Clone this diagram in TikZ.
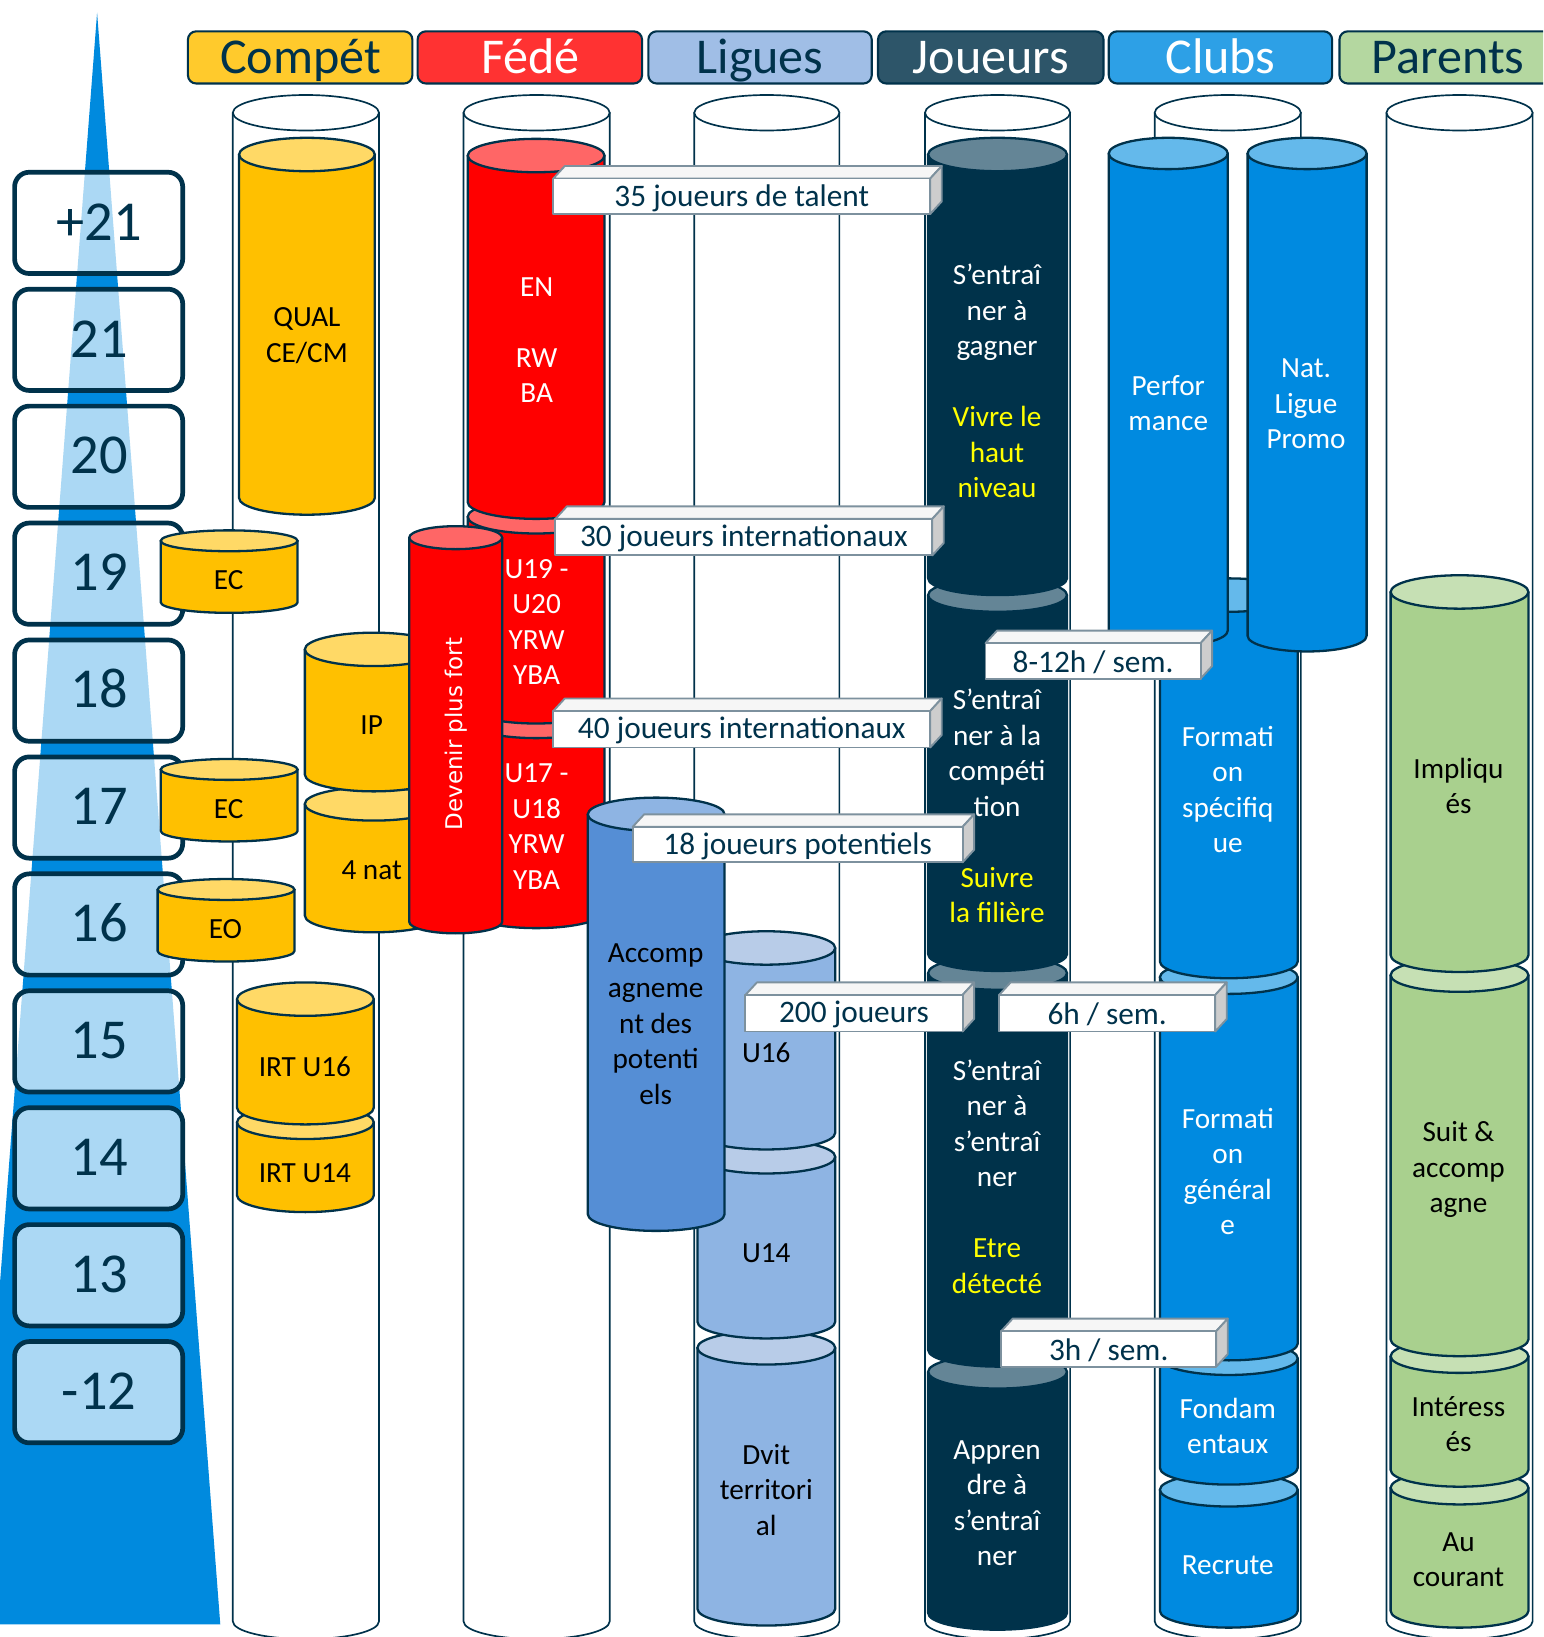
\documentclass[tikz,border=0pt]{standalone}
\usepackage{fontspec}
\setmainfont{Carlito}
\newfontfamily\djv{DejaVu Sans}
\definecolor{navy}{RGB}{0,50,75}
\definecolor{tri}{RGB}{0,138,222}
\definecolor{hCompet}{RGB}{255,202,44}
\definecolor{hFede}{RGB}{255,50,50}
\definecolor{hLigues}{RGB}{160,190,230}
\definecolor{hJoueurs}{RGB}{45,85,105}
\definecolor{hClubs}{RGB}{45,160,230}
\definecolor{hParents}{RGB}{180,215,160}
\definecolor{yelB}{RGB}{255,192,0}
\definecolor{yelT}{RGB}{255,217,102}
\definecolor{redB}{RGB}{255,0,0}
\definecolor{redT}{RGB}{255,102,102}
\definecolor{accB}{RGB}{85,142,213}
\definecolor{accT}{RGB}{142,180,227}
\definecolor{ligB}{RGB}{142,180,227}
\definecolor{ligT}{RGB}{184,204,232}
\definecolor{jouB}{RGB}{0,50,74}
\definecolor{jouT}{RGB}{100,133,150}
\definecolor{cluB}{RGB}{0,138,224}
\definecolor{cluT}{RGB}{100,185,235}
\definecolor{parB}{RGB}{169,208,142}
\definecolor{parT}{RGB}{198,224,180}
\definecolor{jyel}{RGB}{255,255,0}
\definecolor{lblline}{RGB}{125,145,158}
\definecolor{lblside}{RGB}{205,205,205}
\definecolor{lbltop}{RGB}{246,246,246}

% x1 x2 ytop ybot ry body top linewidth
\newcommand\mycyl[8]{%
 \pgfmathsetmacro\cyx{(#1+#2)/2}%
 \pgfmathsetmacro\cyr{(#2-#1)/2}%
 \pgfmathsetmacro\cykx{0.5523*\cyr}%
 \pgfmathsetmacro\cyky{0.5523*#5}%
 \filldraw[line width=#8, draw=navy, fill=#6, line join=round] (#1,#3) -- (#1,#4) .. controls (#1,#4+\cyky) and (\cyx-\cykx,#4+#5) .. (\cyx,#4+#5) .. controls (\cyx+\cykx,#4+#5) and (#2,#4+\cyky) .. (#2,#4) -- (#2,#3) -- cycle;
 \filldraw[line width=#8, draw=navy, fill=#7] (\cyx,#3) ellipse [x radius=\cyr, y radius=#5];
}
\newcommand\incyl[7]{\mycyl{#1}{#2}{#3}{#4}{#5}{#6}{#7}{2.2pt}}

% x1 y1 x2 y2 name text
\newcommand\lbl[6]{%
 \filldraw[lblbox, fill=lbltop] (#1,#2) -- (#1+11,#2-12) -- (#3+11,#2-12) -- (#3,#2) -- cycle;
 \filldraw[lblbox, fill=lblside] (#3,#2) -- (#3+11,#2-12) -- (#3+11,#4-12) -- (#3,#4) -- cycle;
 \filldraw[lblbox, fill=white] (#1,#2) rectangle (#3,#4);
 \node[lbltext] (#5) at ({(#1+#3)/2},{(#2+#4)/2+1.5}) {#6};
}

\tikzset{
 lblbox/.style={draw=lblline, line width=1.8pt, line join=round},
 lbltext/.style={inner sep=0, text=navy, font=\fontsize{30}{36}\selectfont},
 agebox/.style={draw=navy, line width=4.5pt, rounded corners=14pt, fill=white, fill opacity=0.67},
 agetext/.style={anchor=base, inner sep=0, text=navy, font=\fontsize{54}{60}\selectfont},
 hdrbox/.style={draw=navy, line width=2pt, rounded corners=8pt},
 hdrtext/.style={anchor=base, inner sep=0, font=\fontsize{48}{56}\selectfont},
 ct/.style={inner sep=0, yshift=-3pt, align=center, font=\fontsize{28}{34}\selectfont, execute at begin node=\strut, execute at end node=\strut},
 ctk/.style={ct, text=black},
 ctw/.style={ct, text=white},
}

\begin{document}
\begin{tikzpicture}[x=1pt,y=-1pt]
\useasboundingbox (0,0) rectangle (1478,1568);
\clip (0,0) rectangle (1478,1568);
\fill[white] (0,0) rectangle (1478,1568);

% pyramid
\fill[tri] (93,12) -- (211,1556) -- (-25,1556) -- cycle;

% age boxes
\foreach \lab [count=\i from 0] in {+21,21,20,19,18,17,16,15,14,13,-12}{
  \pgfmathsetmacro\yt{165+112*\i}
  \draw[agebox] (14,\yt) rectangle (175,\yt+97);
  \node[agetext] (age\i) at (95,\yt+65) {\lab};
}

% headers
\draw[hdrbox, fill=hCompet] (180,30) rectangle (395,80);
\node[hdrtext, text=navy] (hcompet) at (288,70) {Compét};
\draw[hdrbox, fill=hFede] (400,30) rectangle (615,80);
\node[hdrtext, text=white] (hfede) at (508,70) {Fédé};
\draw[hdrbox, fill=hLigues] (621,30) rectangle (835,80);
\node[hdrtext, text=navy] (hligues) at (728,70) {Ligues};
\draw[hdrbox, fill=hJoueurs] (841,30) rectangle (1057,80);
\node[hdrtext, text=white] (hjoueurs) at (949,70) {Joueurs};
\draw[hdrbox, fill=hClubs] (1062,30) rectangle (1276,80);
\node[hdrtext, text=white] (hclubs) at (1169,70) {Clubs};
\draw[hdrbox, fill=hParents] (1283,30) rectangle (1497,80);
\node[hdrtext, text=navy] (hparents) at (1387,70) {Parents};

% outer white cylinders
\mycyl{223}{363}{108}{1553}{17}{white}{white}{1.6pt}
\mycyl{444}{584}{108}{1553}{17}{white}{white}{1.6pt}
\mycyl{665}{804}{108}{1553}{17}{white}{white}{1.6pt}
\mycyl{886}{1025}{108}{1553}{17}{white}{white}{1.6pt}
\mycyl{1106}{1246}{108}{1553}{17}{white}{white}{1.6pt}
\mycyl{1328}{1468}{108}{1553}{17}{white}{white}{1.6pt}

% Compet column
\incyl{229}{359}{148}{477}{16}{yelB}{yelT}
\incyl{227}{358}{1075}{1145}{16}{yelB}{yelT}
\incyl{227}{358}{957}{1061}{16}{yelB}{yelT}
\incyl{292}{424}{770}{877}{16}{yelB}{yelT}
\incyl{292}{424}{622}{742}{16}{yelB}{yelT}
\incyl{154}{285}{518}{577}{10}{yelB}{yelT}
\incyl{154}{285}{737}{796}{10}{yelB}{yelT}
\incyl{151}{282}{852}{911}{10}{yelB}{yelT}

% Fede column
\incyl{448}{579}{691}{873}{16}{redB}{redT}
\incyl{448}{579}{495}{677}{16}{redB}{redT}
\incyl{448}{579}{149}{481}{16}{redB}{redT}
\incyl{392}{481}{515}{883}{11}{redB}{redT}

% Ligues column
\incyl{668}{800}{1291}{1541}{16}{ligB}{ligT}
\incyl{668}{800}{1108}{1266}{16}{ligB}{ligT}
\incyl{668}{800}{908}{1085}{16}{ligB}{ligT}
\incyl{563}{694}{780}{1163}{16}{accB}{accT}

% Joueurs column
\incyl{889}{1022}{1314}{1545}{16}{jouB}{jouT}
\incyl{889}{1022}{932}{1293}{16}{jouB}{jouT}
\incyl{889}{1022}{570}{914}{16}{jouB}{jouT}
\incyl{889}{1022}{148}{554}{16}{jouB}{jouT}

% Clubs column
\incyl{1111}{1243}{1427}{1543}{16}{cluB}{cluT}
\incyl{1111}{1243}{1301}{1406}{16}{cluB}{cluT}
\incyl{1111}{1243}{936}{1287}{16}{cluB}{cluT}
\incyl{1111}{1243}{570}{921}{16}{cluB}{cluT}
\incyl{1062}{1176}{147}{604}{15}{cluB}{cluT}
\incyl{1195}{1309}{147}{609}{15}{cluB}{cluT}

% Parents column
\incyl{1332}{1464}{1425}{1543}{16}{parB}{parT}
\incyl{1332}{1464}{1299}{1408}{16}{parB}{parT}
\incyl{1332}{1464}{934}{1283}{16}{parB}{parT}
\incyl{1332}{1464}{567}{915}{16}{parB}{parT}

% texts in cylinders
\node[ctk] (qual) at (294,323) {QUAL\\CE/CM};
\node[ctk] (ec19) at (219,555) {EC};
\node[ctk] (ip) at (356,694) {IP};
\node[ctk] (nat4) at (356,833) {4 nat};
\node[ctk] (ec17) at (219,774) {EC};
\node[ctk] (eo) at (216,889) {EO};
\node[ctk] (irt16) at (292,1021) {IRT U16};
\node[ctk] (irt14) at (292,1123) {IRT U14};

\node[ctw] (en) at (514,328) {EN\\[34pt]RW\\BA};
\node[ctw] (u19) at (514,598) {U19 -\\U20\\YRW\\YBA};
\node[ctw] (u17) at (514,794) {U17 -\\U18\\YRW\\YBA};
\node[inner sep=0, rotate=90, text=white, font=\djv\fontsize{22}{26}\selectfont] (devenir) at (437,703) {Devenir plus fort};

\node[ctk] (accomp) at (628,983) {Accomp\\agneme\\nt des\\potenti\\els};
\node[ctk] (lu16) at (734,1008) {U16};
\node[ctk] (lu14) at (734,1199) {U14};
\node[ctk] (dvit) at (734,1429) {Dvit\\territori\\al};

\node[ctw] (j1) at (955,367) {S’entraî\\ner à\\gagner\\[34pt]\textcolor{jyel}{Vivre le}\\\textcolor{jyel}{haut}\\\textcolor{jyel}{niveau}};
\node[ctw] (j2) at (955,774) {S’entraî\\ner à la\\compéti\\tion\\[34pt]\textcolor{jyel}{Suivre}\\\textcolor{jyel}{la filière}};
\node[ctw] (j3) at (955,1129) {S’entraî\\ner à\\s’entraî\\ner\\[34pt]\textcolor{jyel}{Etre}\\\textcolor{jyel}{détecté}};
\node[ctw] (j4) at (955,1442) {Appren\\dre à\\s’entraî\\ner};

\node[ctw] (perf) at (1119,388) {Perfor\\mance};
\node[ctw] (natl) at (1251,389) {Nat.\\Ligue\\Promo};
\node[ctw] (fspec) at (1176,758) {Formati\\on\\spécifiq\\ue};
\node[ctw] (fgen) at (1176,1124) {Formati\\on\\général\\e};
\node[ctw] (fond) at (1176,1368) {Fondam\\entaux};
\node[ctw] (recr) at (1176,1498) {Recrute};

\node[ctk] (impl) at (1397,755) {Impliqu\\és};
\node[ctk] (suit) at (1397,1120) {Suit \&\\accomp\\agne};
\node[ctk] (inter) at (1397,1366) {Intéress\\és};
\node[ctk] (aucour) at (1397,1496) {Au\\courant};

% 3D labels
\lbl{530}{171}{891}{205}{l35}{35 joueurs de talent}
\lbl{532}{497}{893}{532}{l30}{30 joueurs internationaux}
\lbl{530}{681}{891}{716}{l40}{40 joueurs internationaux}
\lbl{606}{792}{922}{826}{l18}{18 joueurs potentiels}
\lbl{944}{616}{1150}{650}{l812}{8-12h / sem.}
\lbl{714}{953}{922}{988}{l200}{200 joueurs}
\lbl{957}{953}{1164}{988}{l6h}{6h / sem.}
\lbl{959}{1275}{1165}{1309}{l3h}{3h / sem.}
\end{tikzpicture}
\end{document}
